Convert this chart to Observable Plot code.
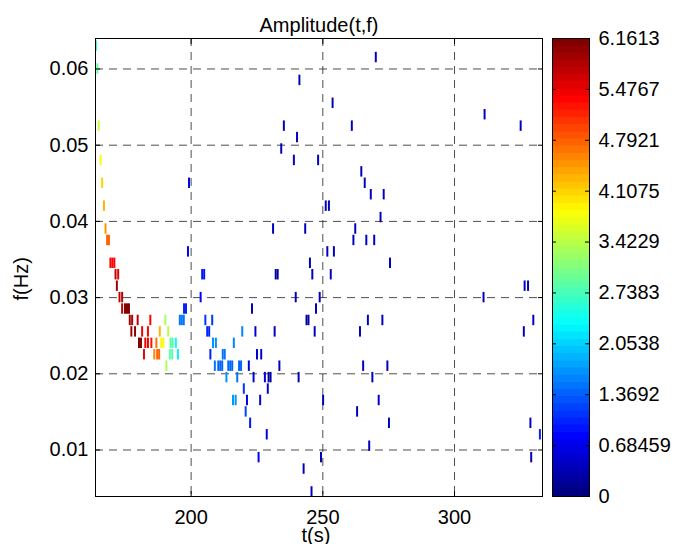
<!DOCTYPE html>
<html>
<head>
<meta charset="utf-8">
<script src="https://cdn.jsdelivr.net/npm/d3@7"></script>
<script src="https://cdn.jsdelivr.net/npm/@observablehq/plot@0.6"></script>
<style>
  body { margin: 0; background: #fff; }
  #wrap { position: relative; width: 681px; height: 544px; background: #fff; }
  #wrap svg { position: absolute; left: 0; top: 0; }
</style>
</head>
<body>
<div id="wrap"></div>
<script>
// ---------------- data ----------------
const titleText = "Amplitude(t,f)";
const xLabelText = "t(s)";
const yLabelText = "f(Hz)";

const xDomain = [163.7, 333.4];
const yDomain = [0.0039, 0.064];
const xTicks = [200, 250, 300];
const yTicks = [0.01, 0.02, 0.03, 0.04, 0.05, 0.06];
const yTickLabels = ["0.01", "0.02", "0.03", "0.04", "0.05", "0.06"];

const ampMax = 6.1613;
const cbTickLabels = ["0", "0.68459", "1.3692", "2.0538", "2.7383", "3.4229", "4.1075", "4.7921", "5.4767", "6.1613"];

// time (s) of each time-frequency cell
const cellTime = [
  164.1,
  270.3,
  164.6,
  241.3,
  253.9,
  311.6,
  165.1, 235.4, 261.2, 325.3,
  240.4,
  234.4,
  165.8, 239.2, 248.4,
  264.8,
  166.4, 199.4, 266.1,
  268.4, 273.3,
  167.1, 251.3, 252.5,
  272.1,
  167.7, 231.3, 243.5, 262.5,
  168.3, 169.0, 261.8, 266.7, 269.7,
  199.0, 251.9, 254.4,
  169.55, 170.3, 171.05, 245.3, 275.7,
  171.5, 172.5, 204.4, 205.15, 232.3, 233.05, 246.2, 253.2,
  172.0, 326.8, 328.1,
  173.0, 174.0, 203.8, 239.9, 249.0, 311.2,
  174.0, 175.1, 175.85, 176.6, 197.5, 198.25, 223.3, 247.6,
  176.9, 177.8, 179.9, 184.7, 190.4, 195.9, 196.65, 197.4, 205.6, 208.2, 244.0, 244.75, 267.3, 272.8, 330.1,
  177.5, 178.9, 181.6, 183.8, 188.3, 191.5, 206.3, 207.05, 219.6, 224.6, 231.9, 247.1, 264.3, 326.5,
  180.4, 181.15, 182.8, 183.8, 185.1, 187.0, 188.9, 189.65, 192.4, 193.15, 194.4, 208.5, 209.6, 216.4,
  182.3, 186.2, 187.3, 188.05, 192.1, 193.0, 195.2, 207.5, 212.2, 212.95, 225.2, 226.8,
  190.8, 209.2, 210.5, 211.25, 212.0, 214.3, 215.05, 215.8, 218.4, 219.15, 222.1, 233.7, 265.5, 274.7,
  213.6, 217.7, 223.9, 228.2, 229.6, 230.35, 241.0, 269.0,
  220.2, 229.3,
  216.1, 217.1, 221.4, 226.4, 250.3, 271.4,
  220.9, 263.2,
  222.6, 275.3, 329.0,
  228.9, 332.6,
  267.8,
  225.8, 249.5, 329.3,
  242.9,
  245.9
];

// frequency (Hz) of each cell
const cellFreq = [
  0.063,
  0.0615,
  0.06,
  0.0585,
  0.0555,
  0.054,
  0.0525, 0.0525, 0.0525, 0.0525,
  0.051,
  0.0495,
  0.048, 0.048, 0.048,
  0.0465,
  0.045, 0.045, 0.045,
  0.0435, 0.0435,
  0.042, 0.042, 0.042,
  0.0405,
  0.039, 0.039, 0.039, 0.039,
  0.0375, 0.0375, 0.0375, 0.0375, 0.0375,
  0.036, 0.036, 0.036,
  0.0345, 0.0345, 0.0345, 0.0345, 0.0345,
  0.033, 0.033, 0.033, 0.033, 0.033, 0.033, 0.033, 0.033,
  0.0315, 0.0315, 0.0315,
  0.03, 0.03, 0.03, 0.03, 0.03, 0.03,
  0.0285, 0.0285, 0.0285, 0.0285, 0.0285, 0.0285, 0.0285, 0.0285,
  0.027, 0.027, 0.027, 0.027, 0.027, 0.027, 0.027, 0.027, 0.027, 0.027, 0.027, 0.027, 0.027, 0.027, 0.027,
  0.0255, 0.0255, 0.0255, 0.0255, 0.0255, 0.0255, 0.0255, 0.0255, 0.0255, 0.0255, 0.0255, 0.0255, 0.0255, 0.0255,
  0.024, 0.024, 0.024, 0.024, 0.024, 0.024, 0.024, 0.024, 0.024, 0.024, 0.024, 0.024, 0.024, 0.024,
  0.0225, 0.0225, 0.0225, 0.0225, 0.0225, 0.0225, 0.0225, 0.0225, 0.0225, 0.0225, 0.0225, 0.0225,
  0.021, 0.021, 0.021, 0.021, 0.021, 0.021, 0.021, 0.021, 0.021, 0.021, 0.021, 0.021, 0.021, 0.021,
  0.0195, 0.0195, 0.0195, 0.0195, 0.0195, 0.0195, 0.0195, 0.0195,
  0.018, 0.018,
  0.0165, 0.0165, 0.0165, 0.0165, 0.0165, 0.0165,
  0.015, 0.015,
  0.0135, 0.0135, 0.0135,
  0.012, 0.012,
  0.0105,
  0.009, 0.009, 0.009,
  0.0075,
  0.0045
];

// amplitude of each cell
const cellAmp = [
  2.6,
  0.45,
  2.9,
  0.45,
  0.45,
  0.45,
  3.5, 0.45, 0.45, 0.45,
  0.45,
  0.45,
  3.8, 0.45, 0.45,
  0.45,
  4.05, 0.75, 0.45,
  0.45, 0.45,
  4.25, 0.45, 0.45,
  0.45,
  4.45, 0.45, 0.45, 0.45,
  4.8, 4.8, 0.45, 0.45, 0.45,
  0.75, 0.45, 0.45,
  5.3, 5.3, 5.3, 0.45, 0.45,
  5.7, 5.5, 0.95, 0.95, 0.2, 0.2, 0.45, 0.45,
  5.9, 0.45, 0.45,
  5.7, 5.8, 0.85, 0.45, 0.45, 0.45,
  5.7, 6.16, 6.16, 6.1, 1.05, 1.05, 0.45, 0.45,
  5.9, 5.8, 5.7, 5.3, 3.3, 1.5, 1.5, 1.5, 1.1, 1.1, 0.2, 0.2, 0.45, 0.45, 0.45,
  5.9, 6.0, 5.4, 5.3, 4.3, 3.4, 1.0, 1.0, 1.6, 0.5, 0.45, 0.45, 0.45, 0.45,
  6.1, 6.1, 5.4, 5.4, 5.2, 4.7, 3.9, 3.85, 2.8, 2.8, 2.4, 1.7, 1.7, 1.6,
  5.4, 4.6, 4.75, 4.75, 2.8, 2.8, 2.3, 1.0, 1.45, 1.45, 0.5, 0.5,
  3.3, 1.5, 1.4, 1.4, 1.4, 1.35, 1.35, 1.35, 1.4, 1.4, 0.6, 0.45, 0.45, 0.45,
  1.7, 1.5, 0.6, 0.6, 0.2, 0.2, 0.3, 0.45,
  1.1, 0.6,
  1.7, 1.7, 0.7, 0.6, 0.3, 0.45,
  1.2, 0.45,
  0.9, 0.45, 0.45,
  0.6, 1.0,
  0.45,
  0.75, 0.3, 0.45,
  0.45,
  0.45
];

// ---------------- rendering ----------------
const dt = 0.75;     // cell duration (s)
const df = 0.0015;   // cell bandwidth (Hz)
const nLevels = 64;  // discrete colormap levels

// MATLAB-like jet colormap (64 levels)
function jet(v) {
  const i = Math.max(0, Math.min(nLevels - 1, Math.floor(v * nLevels)));
  const x = i / (nLevels - 1);
  const c = u => Math.max(0, Math.min(1, u));
  const r = c(1.5 - Math.abs(4 * x - 3));
  const g = c(1.5 - Math.abs(4 * x - 2));
  const b = c(1.5 - Math.abs(4 * x - 1));
  return `rgb(${Math.round(r * 255)},${Math.round(g * 255)},${Math.round(b * 255)})`;
}

const cbTicks = cbTickLabels.map(Number);
const idx = d3.range(cellTime.length);
const colorOpts = {type: "linear", domain: [0, ampMax], interpolate: jet};
const baseStyle = {
  fontFamily: "'Liberation Sans', Arial, Helvetica, sans-serif",
  fontSize: "20px",
  background: "transparent",
  overflow: "visible",
  color: "black"
};
const gridStyle = {stroke: "#222", strokeOpacity: 0.8, strokeDasharray: "8,6"};
const blank = () => "";

const main = Plot.plot({
  width: 681,
  height: 544,
  marginLeft: 95,
  marginRight: 139,
  marginTop: 38,
  marginBottom: 48,
  x: {domain: xDomain},
  y: {domain: yDomain},
  color: colorOpts,
  style: baseStyle,
  marks: [
    Plot.gridX(xTicks, gridStyle),
    Plot.gridY(yTicks, gridStyle),
    Plot.rect(idx, {
      x1: i => cellTime[i] - dt / 2,
      x2: i => cellTime[i] + dt / 2,
      y1: i => cellFreq[i] - df / 2,
      y2: i => cellFreq[i] + df / 2,
      fill: i => cellAmp[i],
      insetTop: 0.5,
      insetBottom: 0.5,
      clip: true
    }),
    Plot.frame({stroke: "black"}),
    Plot.axisX(xTicks, {anchor: "bottom", tickSize: 0, tickPadding: 13, label: null}),
    Plot.axisY(yTicks, {anchor: "left", tickSize: 0, tickPadding: 7, label: null,
      tickFormat: d => yTickLabels[yTicks.indexOf(d)]}),
    Plot.axisX(xTicks, {anchor: "bottom", tickSize: -5, tickFormat: blank, label: null}),
    Plot.axisX(xTicks, {anchor: "top", tickSize: -5, tickFormat: blank, label: null}),
    Plot.axisY(yTicks, {anchor: "left", tickSize: -5, tickFormat: blank, label: null}),
    Plot.axisY(yTicks, {anchor: "right", tickSize: -5, tickFormat: blank, label: null}),
    Plot.text([titleText], {frameAnchor: "top", dy: -21}),
    Plot.text([xLabelText], {frameAnchor: "bottom", dy: 45, dx: -3}),
    Plot.text([yLabelText], {frameAnchor: "left", dx: -74, dy: 33, rotate: -90})
  ]
});

const levels = d3.range(nLevels);
const colorbar = Plot.plot({
  width: 681,
  height: 544,
  marginLeft: 552,
  marginRight: 92,
  marginTop: 38,
  marginBottom: 48,
  y: {domain: [0, ampMax]},
  color: colorOpts,
  style: baseStyle,
  marks: [
    Plot.rect(levels, {
      y1: i => i * ampMax / nLevels,
      y2: i => (i + 1) * ampMax / nLevels,
      fill: i => (i + 0.5) * ampMax / nLevels,
      stroke: i => (i + 0.5) * ampMax / nLevels,
      strokeWidth: 0.6,
      shapeRendering: "crispEdges"
    }),
    Plot.frame({stroke: "black"}),
    Plot.axisY(cbTicks, {anchor: "right", tickSize: 0, tickPadding: 9, label: null,
      tickFormat: d => cbTickLabels[cbTicks.indexOf(d)]}),
    Plot.axisY(cbTicks, {anchor: "left", tickSize: -4, tickFormat: blank, label: null}),
    Plot.axisY(cbTicks, {anchor: "right", tickSize: -5, tickFormat: blank, label: null})
  ]
});

const wrap = document.getElementById("wrap");
wrap.appendChild(main);
wrap.appendChild(colorbar);
</script>
</body>
</html>
